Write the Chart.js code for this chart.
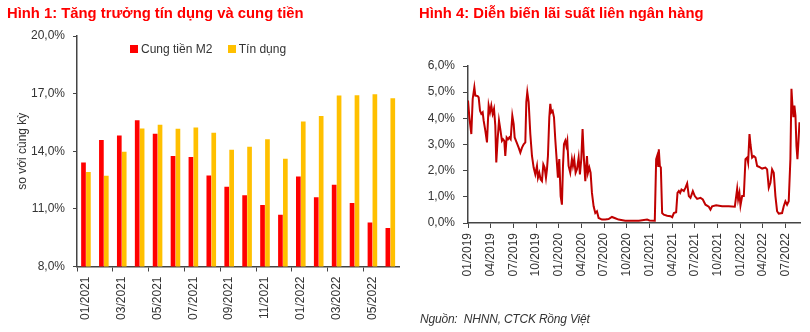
<!DOCTYPE html>
<html>
<head>
<meta charset="utf-8">
<script src="https://cdn.jsdelivr.net/npm/chart.js@4.4.1/dist/chart.umd.min.js"></script>
<style>
  body { margin: 0; background: #fff; font-family: "Liberation Sans", Arial, sans-serif; }
  #page { position: relative; width: 810px; height: 332px; overflow: hidden; }
  .title { position: absolute; top: 5px; color: #ff0000; font-weight: bold; font-size: 14.8px; white-space: nowrap; }
  .box { position: absolute; top: 0; height: 332px; }
  #legend1 { position: absolute; left: 130px; top: 42px; font-size: 12px; color: #333; white-space: nowrap; }
  #legend1 span.sw { display: inline-block; width: 8px; height: 8px; margin-right: 3px; }
  #source { position: absolute; left: 420px; top: 312px; font-size: 12px; font-style: italic; color: #333; white-space: pre; letter-spacing: -0.2px; }
</style>
</head>
<body>
<div id="page">
  <div class="box" style="left:0;width:410px"><canvas id="chart1"></canvas></div>
  <div class="box" style="left:405px;width:405px"><canvas id="chart4"></canvas></div>
  <div class="title" style="left:7px">Hình 1: Tăng trưởng tín dụng và cung tiền</div>
  <div class="title" style="left:419px">Hình 4: Diễn biến lãi suất liên ngân hàng</div>
  <div id="legend1">
    <span class="sw" style="background:#ff0000"></span>Cung tiền M2
    <span class="sw" style="background:#ffc000;margin-left:12px"></span>Tín dụng
  </div>
  <div id="source">Nguồn:  NHNN, CTCK Rồng Việt</div>
</div>
<script>
// Hinh 1 - tang truong (% so voi cung ky)
const months = ["01/2021","02/2021","03/2021","04/2021","05/2021","06/2021","07/2021","08/2021","09/2021",
                "10/2021","11/2021","12/2021","01/2022","02/2022","03/2022","04/2022","05/2022","06/2022"]
const m2Growth = [13.42, 14.58, 14.82, 15.62, 14.91, 13.75, 13.70, 12.74, 12.15,
                  11.71, 11.20, 10.69, 12.68, 11.60, 12.26, 11.30, 10.29, 10.01]
const creditGrowth = [12.92, 12.73, 13.97, 15.19, 15.38, 15.17, 15.24, 14.96, 14.08,
                      14.23, 14.63, 13.61, 15.55, 15.83, 16.90, 16.92, 16.97, 16.76]

// Hinh 4 - lai suat lien ngan hang; x = so thang tinh tu 01/2019
const rateX = [0.00, 0.18, 0.44, 0.62, 0.84, 0.97, 1.28, 1.41, 1.59, 1.76, 1.94, 2.07, 2.29, 2.51, 2.73, 2.91,
  3.08, 3.26, 3.44, 3.61, 3.74, 3.92, 4.10, 4.27, 4.49, 4.63, 4.80, 4.93, 5.11, 5.29, 5.46, 5.64, 5.86, 6.04,
  6.17, 6.43, 6.70, 6.92, 7.14, 7.36, 7.58, 7.71, 7.84, 8.02, 8.24, 8.46, 8.68, 8.90, 9.12, 9.25, 9.43, 9.60,
  9.78, 9.96, 10.13, 10.31, 10.44, 10.57, 10.75, 10.88, 11.01, 11.19, 11.37, 11.54, 11.72, 11.89, 12.07, 12.25,
  12.42, 12.56, 12.69, 12.86, 13.00, 13.13, 13.30, 13.52, 13.74, 13.88, 14.05, 14.23, 14.41, 14.63, 14.80,
  14.98, 15.15, 15.33, 15.51, 15.73, 15.86, 16.04, 16.21, 16.39, 16.61, 16.83, 17.05, 17.27, 17.71, 18.15,
  18.59, 19.03, 19.47, 19.91, 20.79, 21.67, 22.59, 23.69, 24.00, 24.70, 24.88, 25.01, 25.15, 25.23, 25.37,
  25.50, 25.67, 25.89, 26.33, 26.78, 27.00, 27.22, 27.52, 27.70, 27.88, 28.05, 28.23, 28.54, 28.76, 28.98,
  29.20, 29.42, 29.73, 29.99, 30.30, 30.74, 31.05, 31.40, 31.84, 32.06, 32.28, 32.81, 33.60, 34.48, 35.28,
  35.59, 35.72, 35.89, 36.03, 36.25, 36.47, 36.69, 36.91, 37.04, 37.22, 37.35, 37.57, 37.79, 38.01, 38.23,
  38.45, 38.89, 39.33, 39.55, 39.77, 39.99, 40.21, 40.43, 40.65, 40.87, 41.09, 41.53, 41.75, 41.97, 42.19,
  42.41, 42.63, 42.77, 42.90, 43.03, 43.16, 43.30, 43.43, 43.56, 43.69, 43.83]
const rateValues = [4.68, 4.04, 3.40, 4.74, 5.19, 4.87, 4.85, 4.80, 4.29, 4.17, 4.23, 3.91, 3.53, 3.08, 4.49, 4.23,
  4.49, 4.17, 4.36, 3.72, 2.31, 3.20, 3.91, 3.59, 3.14, 3.20, 3.14, 2.56, 3.27, 3.20, 3.27, 3.20, 4.10, 3.78,
  3.27, 3.08, 2.88, 2.69, 2.88, 3.01, 3.08, 4.62, 5.00, 4.62, 3.40, 2.56, 2.12, 1.86, 2.18, 1.73, 1.92, 1.67,
  1.60, 2.24, 2.12, 1.73, 2.05, 2.56, 4.04, 4.55, 4.23, 4.29, 4.04, 3.20, 2.44, 1.73, 2.44, 1.03,
  0.70, 2.18, 3.01, 3.14, 2.95, 3.14, 2.18, 1.92, 2.44, 2.18, 2.44, 1.92, 2.05, 2.50, 1.86,
  2.44, 3.59, 2.44, 1.60, 2.56, 1.92, 2.12, 1.92, 1.15, 0.64, 0.38, 0.45, 0.19, 0.13, 0.13,
  0.15, 0.23, 0.18, 0.13, 0.09, 0.09, 0.09, 0.13, 0.10, 0.09, 2.44, 2.56, 2.18, 2.82, 2.18,
  2.12, 0.38, 0.32, 0.28, 0.26, 0.22, 0.38, 0.41, 1.15, 1.22, 1.15, 1.28, 1.22, 1.35, 1.51,
  1.03, 0.96, 1.22, 1.03, 0.92, 0.96, 0.90, 0.70, 0.62, 0.51, 0.64, 0.68, 0.64, 0.64, 0.62,
  1.31, 0.90, 1.15, 0.67, 1.03, 1.03, 2.44, 2.50, 2.31, 3.40, 3.01, 2.50, 2.56, 2.50, 2.18,
  2.15, 2.08, 2.12, 2.05, 1.35, 1.54, 2.05, 1.92, 1.03, 0.45, 0.36, 0.38, 0.64, 0.83, 0.70,
  0.83, 2.44, 5.13, 4.49, 4.04, 4.49, 4.10, 2.95, 2.44, 3.08, 3.85]
const rateTicks = ["01/2019","04/2019","07/2019","10/2019","01/2020","04/2020","07/2020","10/2020",
                   "01/2021","04/2021","07/2021","10/2021","01/2022","04/2022","07/2022"]

const font = { family: "'Liberation Sans', Arial, sans-serif", size: 12 }
const axisColor = "#444"
const textColor = "#333"
const pct = v => v.toFixed(1).replace(".", ",") + "%"
const monthIndex = s => {
    let [mm, yy] = s.split("/")
    return (Number(yy) - 2019) * 12 + Number(mm) - 1
}

new Chart(document.getElementById("chart1"), {
    type: "bar",
    data: {
        labels: months,
        datasets: [
            { label: "Cung tiền M2", data: m2Growth, backgroundColor: "#ff0000" },
            { label: "Tín dụng", data: creditGrowth, backgroundColor: "#ffc000" }
        ]
    },
    options: {
        responsive: true,
        maintainAspectRatio: false,
        animation: false,
        categoryPercentage: 0.55,
        barPercentage: 0.95,
        layout: { padding: { top: 36, right: 10, left: 0, bottom: 0 } },
        plugins: { legend: { display: false }, tooltip: { enabled: false } },
        scales: {
            x: {
                afterFit: s => { s.height = 65.5 },
                border: { color: axisColor, width: 1.5 },
                grid: {
                    offset: true,
                    drawOnChartArea: false,
                    tickLength: 5,
                    tickColor: ctx => ctx.index % 2 === 0 ? axisColor : "rgba(0,0,0,0)"
                },
                ticks: {
                    autoSkip: false,
                    minRotation: 90,
                    maxRotation: 90,
                    padding: 5,
                    color: textColor,
                    font: font,
                    callback: (v, i) => i % 2 === 0 ? months[i] : ""
                }
            },
            y: {
                min: 8,
                max: 20,
                afterFit: s => { s.width = 77 },
                border: { color: axisColor, width: 1.5 },
                grid: { drawOnChartArea: false, tickLength: 4, tickColor: axisColor },
                ticks: { stepSize: 3, padding: 8, color: textColor, font: font, callback: pct },
                title: { display: true, text: "so với cùng kỳ", color: textColor, font: font, padding: { top: 15, bottom: 0 } }
            }
        }
    }
})

new Chart(document.getElementById("chart4"), {
    type: "line",
    data: {
        datasets: [{
            label: "Lãi suất liên ngân hàng",
            data: rateX.map((x, i) => ({ x: x, y: rateValues[i] })),
            borderColor: "#c00000",
            borderWidth: 2,
            pointRadius: 0,
            tension: 0
        }]
    },
    options: {
        responsive: true,
        maintainAspectRatio: false,
        animation: false,
        layout: { padding: { top: 66, right: 10, left: 0, bottom: 0 } },
        plugins: { legend: { display: false }, tooltip: { enabled: false } },
        scales: {
            x: {
                type: "linear",
                min: 0,
                max: 43.9,
                afterFit: s => { s.height = 109 },
                afterBuildTicks: s => { s.ticks = rateTicks.map(t => ({ value: monthIndex(t), label: t })) },
                border: { color: axisColor, width: 1.5 },
                grid: { drawOnChartArea: false, tickLength: 5, tickColor: axisColor },
                ticks: {
                    autoSkip: false,
                    minRotation: 90,
                    maxRotation: 90,
                    padding: 5,
                    color: textColor,
                    font: font,
                    callback: (v, i) => rateTicks[i]
                }
            },
            y: {
                min: 0,
                max: 6,
                afterFit: s => { s.width = 63 },
                border: { color: axisColor, width: 1.5 },
                grid: { drawOnChartArea: false, tickLength: 5, tickColor: axisColor },
                ticks: { stepSize: 1, padding: 8, color: textColor, font: font, callback: pct }
            }
        }
    }
})
</script>
</body>
</html>
